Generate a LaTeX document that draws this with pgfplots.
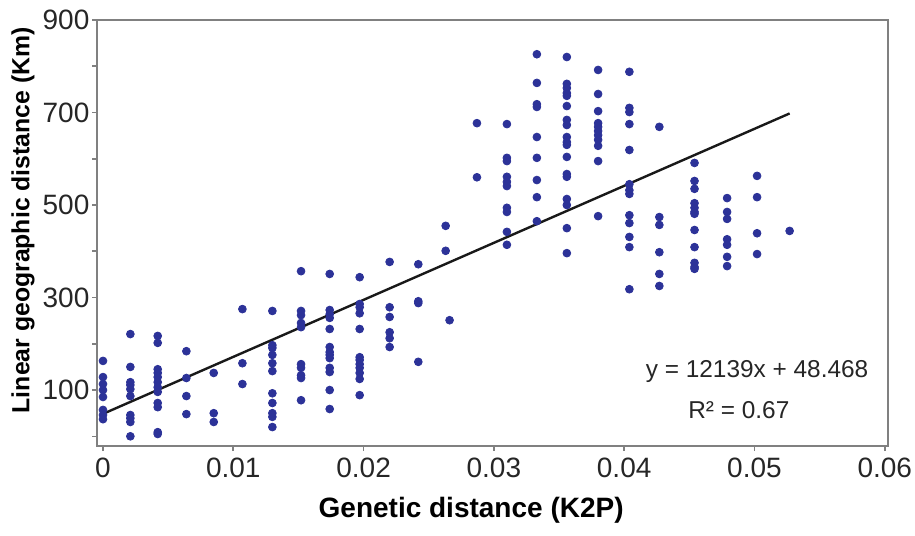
\documentclass[border=0pt]{standalone}
\usepackage{pgfplots}
\pgfplotsset{compat=1.18}
\usepackage{fontspec}
\setmainfont{Liberation Sans}
\definecolor{dotblue}{RGB}{44,50,152}
\definecolor{framegray}{RGB}{128,128,128}

\pgfplotstableread{
x y
0 163
0 128
0 113
0 100
0 85
0 57
0 46
0 37
0.0021 221
0.0021 150
0.0021 117
0.0021 111
0.0021 102
0.0021 87
0.0021 46
0.0021 39
0.0021 31
0.0021 0
0.0042 217
0.0042 202
0.0042 145
0.0042 137
0.0042 128
0.0042 117
0.0042 106
0.0042 96
0.0042 72
0.0042 63
0.0042 9
0.0042 5
0.0064 184
0.0064 126
0.0064 87
0.0064 48
0.0085 137
0.0085 50
0.0085 31
0.0107 275
0.0107 158
0.0107 113
0.0130 271
0.0130 197
0.0130 191
0.0130 176
0.0130 158
0.0130 141
0.0130 93
0.0130 72
0.0130 50
0.0130 42
0.0130 20
0.0152 357
0.0152 271
0.0152 262
0.0152 245
0.0152 236
0.0152 156
0.0152 148
0.0152 132
0.0152 126
0.0152 78
0.0174 351
0.0174 273
0.0174 264
0.0174 256
0.0174 232
0.0174 193
0.0174 182
0.0174 176
0.0174 169
0.0174 148
0.0174 139
0.0174 100
0.0174 59
0.0197 344
0.0197 286
0.0197 279
0.0197 266
0.0197 232
0.0197 171
0.0197 165
0.0197 156
0.0197 148
0.0197 137
0.0197 124
0.0197 89
0.0220 377
0.0220 279
0.0220 258
0.0220 225
0.0220 212
0.0220 193
0.0242 372
0.0242 292
0.0242 288
0.0242 161
0.0263 455
0.0263 401
0.0266 251
0.0287 677
0.0287 560
0.0310 675
0.0310 602
0.0310 595
0.0310 561
0.0310 550
0.0310 541
0.0310 494
0.0310 485
0.0310 442
0.0310 414
0.0333 826
0.0333 764
0.0333 718
0.0333 712
0.0333 647
0.0333 602
0.0333 554
0.0333 517
0.0333 465
0.0356 820
0.0356 762
0.0356 753
0.0356 742
0.0356 736
0.0356 714
0.0356 684
0.0356 673
0.0356 647
0.0356 636
0.0356 630
0.0356 604
0.0356 567
0.0356 561
0.0356 513
0.0356 500
0.0356 450
0.0356 396
0.0380 792
0.0380 740
0.0380 703
0.0380 677
0.0380 669
0.0380 660
0.0380 651
0.0380 641
0.0380 628
0.0380 595
0.0380 476
0.0404 788
0.0404 710
0.0404 701
0.0404 675
0.0404 619
0.0404 545
0.0404 532
0.0404 524
0.0404 478
0.0404 461
0.0404 431
0.0404 409
0.0404 318
0.0427 669
0.0427 474
0.0427 457
0.0427 398
0.0427 351
0.0427 325
0.0454 591
0.0454 552
0.0454 535
0.0454 504
0.0454 494
0.0454 485
0.0454 481
0.0454 446
0.0454 409
0.0454 375
0.0454 366
0.0454 362
0.0479 515
0.0479 485
0.0479 470
0.0479 426
0.0479 414
0.0479 388
0.0479 368
0.0502 563
0.0502 517
0.0502 439
0.0502 394
0.0527 444
}\pointdata

\begin{document}
\begin{tikzpicture}
\begin{axis}[
  name=ax,
  scale only axis,
  width=395.5pt, height=213pt,
  xmin=-0.00046, xmax=0.06025,
  ymin=-21, ymax=900,
  axis line style={framegray, line width=1pt},
  tick style={framegray, line width=0.8pt},
  tick align=outside,
  major tick length=2.5pt,
  xtick pos=lower, ytick pos=left,
  xtick={0,0.01,0.02,0.03,0.04,0.05,0.06},
  xticklabels={0,0.01,0.02,0.03,0.04,0.05,0.06},
  ytick={0,100,200,300,400,500,600,700,800,900},
  yticklabels={,100,,300,,500,,700,,900},
  scaled x ticks=false,
  ticklabel style={font=\fontsize{14}{16}\selectfont, text=black!85},
  yticklabel style={xshift=2.2pt},
  /pgf/number format/assume math mode=true,
  xlabel={Genetic distance (K2P)},
  xlabel style={at={(axis description cs:0.473,-0.150)}, anchor=center, font=\bfseries\fontsize{14}{16}\selectfont},
  ylabel={Linear geographic distance (Km)},
  ylabel style={at={(axis description cs:-0.0936,0.53)}, anchor=center, font=\bfseries\fontsize{12.4}{14}\selectfont},
  clip=false,
]
\addplot[only marks, mark=*, mark size=1.95pt, color=dotblue, mark options={fill=dotblue, draw=dotblue}] table[x=x,y=y] {\pointdata};
\addplot[black!90, line width=1.2pt] coordinates {(0,48.5) (0.0527,698)};
\node[font=\fontsize{12.2}{14}\selectfont, text=black!85] at (axis cs:0.0502,139) {y = 12139x + 48.468};
\node[font=\fontsize{12.2}{14}\selectfont, text=black!85] at (axis cs:0.0488,57) {R² = 0.67};
\end{axis}
\pgfresetboundingbox
\path[use as bounding box] ([xshift=-48.5pt,yshift=-44.5pt]ax.south west) rectangle ([xshift=13.5pt,yshift=10pt]ax.north east);
\end{tikzpicture}
\end{document}
